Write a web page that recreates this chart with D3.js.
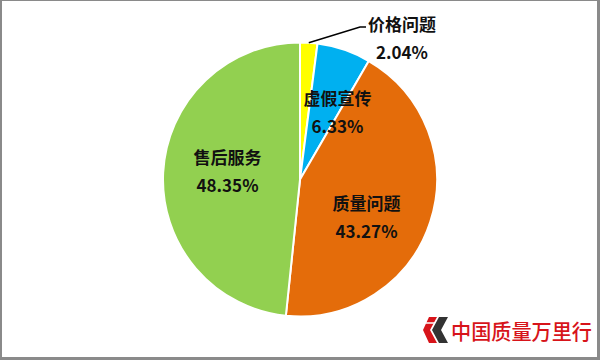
<!DOCTYPE html>
<html>
<head>
<meta charset="utf-8">
<script src="https://cdn.jsdelivr.net/npm/d3@7/dist/d3.min.js"></script>
<style>
  html, body { margin: 0; padding: 0; background: #fff; }
  svg { display: block; }
</style>
</head>
<body>
<svg id="chart" width="600" height="360"></svg>
<script>
// Complaint categories and their shares (%), clockwise from 12 o'clock
const categories = ["价格问题", "虚假宣传", "质量问题", "售后服务"];
const shares = [2.04, 6.33, 43.27, 48.35];
const colors = ["#FFFF00", "#00B0F0", "#E46C0A", "#92D050"];

const W = 600, H = 360;
const cx = 300, cy = 179.5, R = 137;

// Label anchor points (centre of the two-line label)
const labelAnchor = {
  "价格问题": [402, 37],
  "虚假宣传": [337.5, 111],
  "质量问题": [366.5, 216],
  "售后服务": [227.5, 170.5]
};

const svg = d3.select("#chart");

svg.append("rect").attr("width", W).attr("height", H).attr("fill", "#fff");

const data = categories.map((c, i) => ({ name: c, value: shares[i], color: colors[i] }));

const pie = d3.pie().value(d => d.value).sort(null);
const arc = d3.arc().innerRadius(0).outerRadius(R);
const arcs = pie(data);

const g = svg.append("g").attr("transform", `translate(${cx},${cy})`);

g.selectAll("path.slice")
  .data(arcs)
  .enter().append("path")
  .attr("class", "slice")
  .attr("d", arc)
  .attr("fill", d => d.data.color)
  .attr("stroke", "#fff")
  .attr("stroke-width", 2)
  .attr("stroke-linejoin", "round");

// Leader line for the small slice
const small = arcs[0];
const midA = (small.startAngle + small.endAngle) / 2;
const p0 = [cx + R * Math.sin(midA), cy - R * Math.cos(midA)];
svg.append("polyline")
  .attr("points", [p0, [360, 27], [366, 27]].map(p => p.join(",")).join(" "))
  .attr("fill", "none")
  .attr("stroke", "#000")
  .attr("stroke-width", 1.5);

// Two-line labels: category name and percentage
const fmt = d3.format(".2f");
const labels = svg.selectAll("g.label")
  .data(arcs)
  .enter().append("g")
  .attr("class", "label")
  .attr("transform", d => `translate(${labelAnchor[d.data.name][0]},${labelAnchor[d.data.name][1]})`);

labels.append("text")
  .attr("y", -14)
  .attr("text-anchor", "middle")
  .attr("dominant-baseline", "central")
  .attr("font-family", "'Noto Sans CJK SC', 'Noto Sans', sans-serif")
  .attr("font-weight", "bold")
  .attr("font-size", 17)
  .attr("fill", "#111")
  .text(d => d.data.name);

labels.append("text")
  .attr("y", 14)
  .attr("text-anchor", "middle")
  .attr("dominant-baseline", "central")
  .attr("font-family", "'Noto Sans CJK SC', 'Noto Sans', sans-serif")
  .attr("font-weight", "bold")
  .attr("font-size", 17)
  .attr("fill", "#111")
  .text(d => fmt(d.data.value) + "%");

// Brand mark bottom-right
const mark = svg.append("g").attr("transform", "translate(423,317)");
mark.append("path")
  .attr("d", "M6,0 L14,0 L7,13 L14,26 L6,26 L0,13 Z")
  .attr("fill", "#D7141A");
mark.append("path")
  .attr("d", "M16,0 L25,0 L18,13 L25,26 L16,26 L9,13 Z")
  .attr("fill", "#333");
mark.append("path")
  .attr("d", "M3,6 L12,6")
  .attr("stroke", "#fff").attr("stroke-width", 1.5);

svg.append("text")
  .attr("x", 451)
  .attr("y", 330)
  .attr("dominant-baseline", "central")
  .attr("font-family", "'Noto Sans CJK SC', sans-serif")
  .attr("font-weight", 500)
  .attr("font-size", 21)
  .attr("textLength", 141)
  .attr("lengthAdjust", "spacingAndGlyphs")
  .attr("fill", "#D7141A")
  .text("中国质量万里行");

// Frame
svg.append("rect").attr("x", 0).attr("y", 0).attr("width", W).attr("height", 1).attr("fill", "#8a8a8a");
svg.append("rect").attr("x", 0).attr("y", 0).attr("width", 2).attr("height", H).attr("fill", "#8a8a8a");
svg.append("rect").attr("x", W - 3).attr("y", 0).attr("width", 3).attr("height", H).attr("fill", "#8a8a8a");
svg.append("rect").attr("x", 0).attr("y", H - 3).attr("width", W).attr("height", 3).attr("fill", "#8a8a8a");
</script>
</body>
</html>
